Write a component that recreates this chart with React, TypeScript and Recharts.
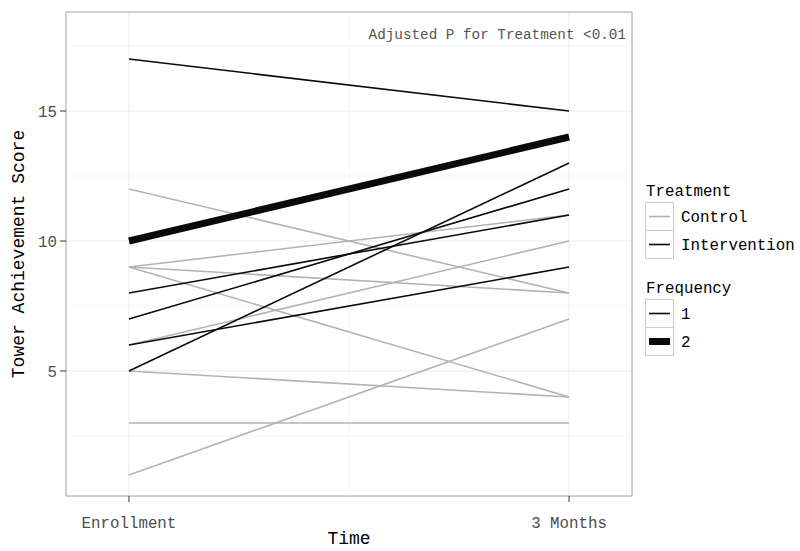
import React from 'react';
import { LineChart, Line, XAxis, YAxis, CartesianGrid, ReferenceArea, ReferenceLine } from 'recharts';

const timePoints = [1, 2];
const timeLabels = ['Enrollment', '3 Months'];
const controlEnroll = [12, 9, 9, 9, 6, 5, 3, 1];
const control3m = [8, 11, 8, 4, 10, 4, 3, 7];
const interventionEnroll = [17, 10, 5, 7, 8, 6];
const intervention3m = [15, 14, 13, 12, 11, 9];
const interventionFreq = [1, 2, 1, 1, 1, 1];
const yTicks = [5, 10, 15];
const yMinor = [2.5, 7.5, 12.5, 17.5];
const xMinor = [1.5];
const annotation = 'Adjusted P for Treatment <0.01';

const X_DOMAIN: [number, number] = [0.857, 2.143];
const Y_DOMAIN: [number, number] = [0.19, 18.81];

const FONT = '"Liberation Mono", "Courier New", monospace';
const GREY = '#b3b3b3';
const BLACK = '#0a0a0a';

const data = timePoints.map((t, ti) => {
  const row: Record<string, number> = { t };
  controlEnroll.forEach((v, i) => {
    row['c' + i] = ti === 0 ? v : control3m[i];
  });
  interventionEnroll.forEach((v, i) => {
    row['i' + i] = ti === 0 ? v : intervention3m[i];
  });
  return row;
});

function LegendOverlay() {
  const txt = { fontFamily: FONT, fontSize: 15.8, fill: '#000' } as const;
  const box = (y: number) => (
    <rect x={645.5} y={y + 0.5} width={28} height={28} fill="#fff" stroke="#cccccc" strokeWidth={1} />
  );
  return (
    <svg width={800} height={551} style={{ position: 'absolute', left: 0, top: 0, pointerEvents: 'none' }}>
      <text x={626} y={39} textAnchor="end" style={{ fontFamily: FONT, fontSize: 14.3, fill: '#555' }}>{annotation}</text>
      <text x={646} y={196} style={txt}>Treatment</text>
      {box(202)}
      <line x1={649} x2={670} y1={216.5} y2={216.5} stroke={GREY} strokeWidth={1.6} />
      <text x={681} y={222} style={txt}>Control</text>
      {box(230)}
      <line x1={649} x2={670} y1={244.5} y2={244.5} stroke={BLACK} strokeWidth={1.6} />
      <text x={681} y={250} style={txt}>Intervention</text>
      <text x={646} y={293} style={txt}>Frequency</text>
      {box(299)}
      <line x1={649} x2={670} y1={313.5} y2={313.5} stroke={BLACK} strokeWidth={1.6} />
      <text x={681} y={319} style={txt}>1</text>
      {box(327)}
      <line x1={649} x2={670} y1={341.5} y2={341.5} stroke={BLACK} strokeWidth={7} />
      <text x={681} y={347} style={txt}>2</text>
    </svg>
  );
}

export default function App() {
  return (
    <div style={{ position: 'absolute', left: 0, top: 0, width: 800, height: 551, background: '#fff' }}>
      <LineChart width={800} height={551} data={data} margin={{ top: 12, right: 168, bottom: 0, left: 0 }}>
        <CartesianGrid stroke="#ebebeb" strokeWidth={1} />
        {yMinor.map((v) => (
          <ReferenceLine key={'ym' + v} y={v} stroke="#f2f2f2" strokeWidth={0.7} />
        ))}
        {xMinor.map((v) => (
          <ReferenceLine key={'xm' + v} x={v} stroke="#f2f2f2" strokeWidth={0.7} />
        ))}
        <XAxis
          dataKey="t"
          type="number"
          domain={X_DOMAIN}
          ticks={timePoints}
          allowDataOverflow
          tickFormatter={(v: number) => timeLabels[timePoints.indexOf(v)] ?? ''}
          height={55}
          axisLine={false}
          tickLine={{ stroke: '#333' }}
          tickSize={6}
          tickMargin={15}
          tick={{ fontFamily: FONT, fontSize: 15.8, fill: '#4d4d4d' }}
          label={{ value: 'Time', position: 'insideBottom', offset: 7, style: { fontFamily: FONT, fontSize: 18, fill: '#000' } }}
        />
        <YAxis
          type="number"
          domain={Y_DOMAIN}
          ticks={yTicks}
          allowDataOverflow
          width={66}
          axisLine={false}
          tickLine={{ stroke: '#333' }}
          tickSize={6}
          tickMargin={3}
          tick={{ fontFamily: FONT, fontSize: 15.8, fill: '#4d4d4d' }}
          label={{ value: 'Tower Achievement Score', angle: -90, position: 'insideLeft', offset: 18, style: { fontFamily: FONT, fontSize: 18, fill: '#000', textAnchor: 'middle' } }}
        />
        <ReferenceArea x1={X_DOMAIN[0]} x2={X_DOMAIN[1]} y1={Y_DOMAIN[0]} y2={Y_DOMAIN[1]} fill="none" stroke="#aaaaaa" strokeWidth={1} ifOverflow="visible" />
        {controlEnroll.map((_, i) => (
          <Line key={'c' + i} dataKey={'c' + i} stroke={GREY} strokeWidth={1.6} dot={false} isAnimationActive={false} type="linear" />
        ))}
        {interventionEnroll.map((_, i) => (
          <Line key={'i' + i} dataKey={'i' + i} stroke={BLACK} strokeWidth={interventionFreq[i] === 2 ? 7 : 1.6} dot={false} isAnimationActive={false} type="linear" />
        ))}
      </LineChart>
      <LegendOverlay />
    </div>
  );
}
